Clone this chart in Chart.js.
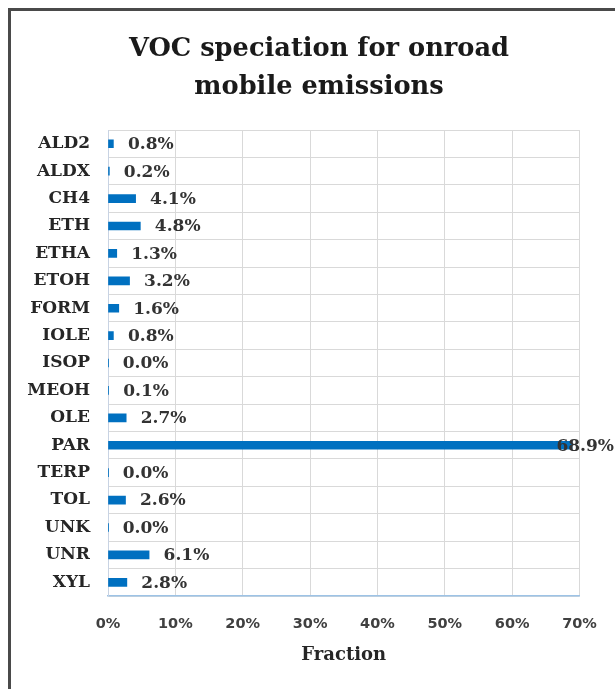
<!DOCTYPE html>
<html>
<head>
<meta charset="utf-8">
<script src="https://cdn.jsdelivr.net/npm/chart.js@4"></script>
<style>
    html, body { margin: 0; padding: 0; background: #fff; overflow: hidden; }
    #wrap { position: relative; width: 615px; height: 689px; }
    #frame {
        position: absolute; left: 8px; top: 8px; width: 700px; height: 800px;
        border-left: 3px solid #4a4a4a; border-top: 3px solid #4a4a4a;
    }
    #chart { position: absolute; left: 0; top: 0; }
</style>
</head>
<body>
<div id="wrap">
    <div id="frame"></div>
    <canvas id="chart" width="615" height="689"></canvas>
</div>
<script>
const species = ['ALD2', 'ALDX', 'CH4', 'ETH', 'ETHA', 'ETOH', 'FORM', 'IOLE', 'ISOP',
                 'MEOH', 'OLE', 'PAR', 'TERP', 'TOL', 'UNK', 'UNR', 'XYL'];
// percent of total VOC (the 0.0% entries are tiny but non-zero slivers)
const fractions = [0.8, 0.2, 4.1, 4.8, 1.3, 3.2, 1.6, 0.8, 0.02,
                   0.1, 2.7, 68.9, 0.02, 2.6, 0.02, 6.1, 2.8];
const xTicks = [0, 10, 20, 30, 40, 50, 60, 70];
const titleLines = ['VOC speciation for onroad', 'mobile emissions'];

const serif = "'DejaVu Serif', serif";
const sans = "'DejaVu Sans', sans-serif";

// value labels just past the end of each bar, pulled back if they would run off the right
const barLabels = {
    id: 'barLabels',
    afterLayout(chart) {
        // title is centred on the whole frame, not just the area left of the right padding
        chart.titleBlock.left = 23;
        chart.titleBlock.right = chart.width;
    },
    afterDatasetsDraw(chart) {
        const ctx = chart.ctx;
        const meta = chart.getDatasetMeta(0);
        ctx.save();
        ctx.font = 'bold 17px ' + serif;
        ctx.fillStyle = '#333333';
        ctx.textBaseline = 'middle';
        ctx.textAlign = 'left';
        meta.data.forEach((bar, i) => {
            const txt = fractions[i].toFixed(1) + '%';
            const w = ctx.measureText(txt).width;
            let x = bar.x + 14.5;
            if (x + w > chart.width - 1) x = chart.width - 1 - w;
            ctx.fillText(txt, x, bar.y + 1);
        });
        ctx.restore();
    }
};

new Chart(document.getElementById('chart'), {
    type: 'bar',
    data: {
        labels: species,
        datasets: [{
            data: fractions,
            backgroundColor: '#0070c0',
            barThickness: 8
        }]
    },
    options: {
        indexAxis: 'y',
        responsive: false,
        devicePixelRatio: 1,
        animation: false,
        layout: { padding: { left: 0, right: 35.5, top: 0, bottom: 0 } },
        plugins: {
            legend: { display: false },
            tooltip: { enabled: false },
            title: {
                display: true,
                text: titleLines,
                color: '#1a1a1a',
                font: { family: serif, size: 25.7, weight: 'bold', lineHeight: 1.48 },
                padding: { top: 30, bottom: 24 }
            }
        },
        scales: {
            x: {
                min: 0,
                max: 70,
                afterBuildTicks: scale => { scale.ticks = xTicks.map(v => ({ value: v })); },
                afterFit: scale => {
                    scale.height = 93;
                    scale.paddingLeft = 0;
                    scale.paddingRight = 0;
                },
                grid: { color: '#d9d9d9', drawTicks: false },
                border: { color: '#9dc3e6', width: 1.5 },
                ticks: {
                    padding: 20,
                    color: '#404040',
                    font: { family: sans, size: 14.5, weight: 'bold' },
                    callback: v => v + '%'
                },
                title: {
                    display: true,
                    text: 'Fraction',
                    color: '#262626',
                    font: { family: serif, size: 18, weight: 'bold' },
                    padding: { top: 0, bottom: 23 }
                }
            },
            y: {
                afterFit: scale => { scale.width = 108; },
                grid: { color: '#d9d9d9', drawTicks: false },
                border: { color: '#c8d3e3' },
                ticks: {
                    autoSkip: false,
                    padding: 18,
                    color: '#262626',
                    font: { family: serif, size: 17, weight: 'bold' }
                }
            }
        }
    },
    plugins: [barLabels]
});
</script>
</body>
</html>
